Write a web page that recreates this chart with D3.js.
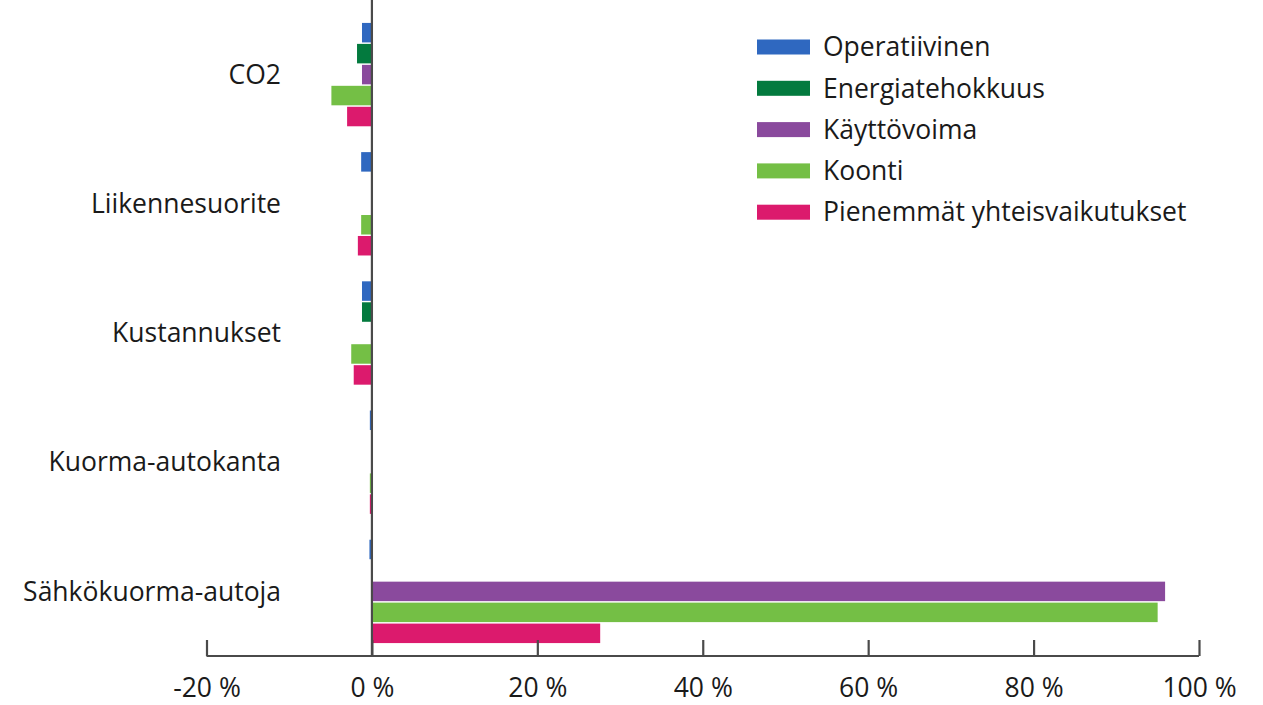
<!DOCTYPE html>
<html>
<head>
<meta charset="utf-8">
<script src="https://cdn.jsdelivr.net/npm/d3@7"></script>
<style>
  html, body { margin: 0; padding: 0; background: #fff; }
  svg text { font-family: "Open Sans", "Noto Sans", sans-serif; fill: #1a1a1a; }
</style>
</head>
<body>
<svg id="chart" width="1263" height="705"></svg>
<script>
// Categories (top to bottom) and series
const categories = ["CO2", "Liikennesuorite", "Kustannukset", "Kuorma-autokanta", "Sähkökuorma-autoja"];
const seriesNames = ["Operatiivinen", "Energiatehokkuus", "Käyttövoima", "Koonti", "Pienemmät yhteisvaikutukset"];
const seriesColors = ["#2f68c0", "#037a3e", "#8a4a9d", "#74bf45", "#dc1a6d"];

// Change in percent, one array per series, aligned with categories
const operatiivinen    = [-1.2, -1.3, -1.2, -0.25, -0.3];
const energiatehokkuus = [-1.8,  0.0, -1.2,  0.0,   0.0];
const kayttovoima      = [-1.2,  0.0,  0.0,  0.0,  95.9];
const koonti           = [-4.9, -1.3, -2.5, -0.25, 95.0];
const pienemmat        = [-3.0, -1.7, -2.2, -0.25, 27.6];

const xTicks = [-20, 0, 20, 40, 60, 80, 100];

const seriesValues = [operatiivinen, energiatehokkuus, kayttovoima, koonti, pienemmat];

const FONT = 26.5;
const svg = d3.select("#chart");

const x = d3.scaleLinear().domain([-20, 100]).range([206.5, 1199]);
const y = d3.scaleBand().domain(categories).range([10, 656]).paddingInner(0.2).paddingOuter(0.1);
const ySub = d3.scaleBand().domain(seriesNames).range([0, y.bandwidth()]).paddingInner(0.07);

const axisY = 656;

// Bars
const groups = svg.append("g").selectAll("g")
  .data(categories)
  .join("g")
  .attr("transform", d => `translate(0,${y(d)})`);

groups.selectAll("rect")
  .data((c, ci) => seriesNames.map((s, si) => ({ s, si, v: seriesValues[si][ci] })))
  .join("rect")
  .filter(d => d.v !== 0)
  .attr("x", d => x(Math.min(0, d.v)))
  .attr("width", d => Math.abs(x(d.v) - x(0)))
  .attr("y", d => ySub(d.s))
  .attr("height", ySub.bandwidth())
  .attr("fill", d => seriesColors[d.si]);

// Bottom axis
const xAxis = d3.axisBottom(x)
  .tickValues(xTicks)
  .tickSize(-16)
  .tickFormat(d => d + " %");

const gx = svg.append("g")
  .attr("transform", `translate(0,${axisY})`)
  .call(xAxis);
gx.select(".domain").attr("d", `M${x(-20)},0H${x(100)}`).attr("stroke", "#4a4a4a").attr("stroke-width", 2.2);
gx.selectAll(".tick line").attr("stroke", "#4a4a4a").attr("stroke-width", 2.2);
gx.selectAll(".tick text")
  .attr("y", 32)
  .attr("dy", "0.35em")
  .attr("font-size", FONT)
  .style("font-family", "'Open Sans', 'Noto Sans', sans-serif")
  .attr("fill", "#1a1a1a");

// Zero line
svg.append("line")
  .attr("x1", x(0)).attr("x2", x(0))
  .attr("y1", 0).attr("y2", axisY)
  .attr("stroke", "#4a4a4a")
  .attr("stroke-width", 2.2);

// Category labels
svg.append("g").selectAll("text")
  .data(categories)
  .join("text")
  .attr("x", 281)
  .attr("y", d => y(d) + y.bandwidth() / 2)
  .attr("dy", "0.35em")
  .attr("text-anchor", "end")
  .attr("font-size", FONT)
  .text(d => d);

// Legend
const legend = svg.append("g").attr("transform", "translate(757,47)");
const rows = legend.selectAll("g")
  .data(seriesNames)
  .join("g")
  .attr("transform", (d, i) => `translate(0,${i * 41.3})`);
rows.append("rect")
  .attr("x", 0).attr("y", -7.5)
  .attr("width", 53).attr("height", 15)
  .attr("fill", (d, i) => seriesColors[i]);
rows.append("text")
  .attr("x", 66)
  .attr("dy", "0.35em")
  .attr("font-size", FONT)
  .text(d => d);
</script>
</body>
</html>
